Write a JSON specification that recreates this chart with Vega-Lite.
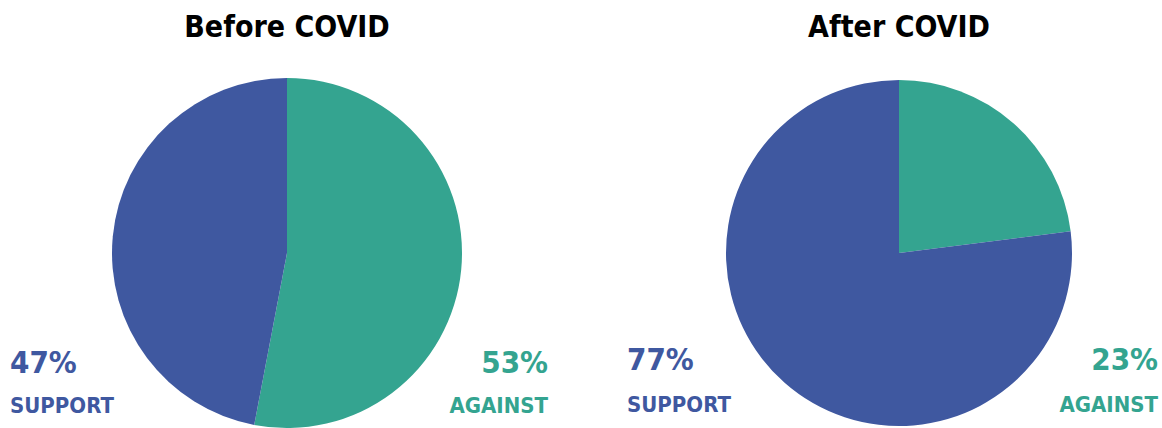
{
  "$schema": "https://vega.github.io/schema/vega-lite/v6.json",
  "padding": {"top": 13, "left": 0, "right": 0, "bottom": 0},
  "autosize": {"type": "pad"},
  "bounds": "flush",
  "background": "white",
  "config": {"view": {"stroke": null}, "font": "DejaVu Sans Condensed, Roboto, sans-serif"},
  "data": {"values": [
    {"period": "Before COVID", "stance": "AGAINST", "value": 0.53},
    {"period": "Before COVID", "stance": "SUPPORT", "value": 0.47},
    {"period": "After COVID", "stance": "AGAINST", "value": 0.23},
    {"period": "After COVID", "stance": "SUPPORT", "value": 0.77}
  ]},
  "spacing": 62,
  "hconcat": [
    {
      "width": 574, "height": 350,
      "title": {"text": "Before COVID", "fontSize": 30, "fontWeight": "bold", "font": "DejaVu Sans Condensed, Roboto, sans-serif", "color": "#000000", "offset": 35, "anchor": "middle"},
      "transform": [{"filter": "datum.period === 'Before COVID'"}],
      "layer": [
        {"mark": {"type": "arc", "outerRadius": 175},
         "encoding": {
           "theta": {"field": "value", "type": "quantitative", "stack": true},
           "color": {"field": "stance", "type": "nominal", "scale": {"domain": ["AGAINST", "SUPPORT"], "range": ["#34A490", "#3F58A0"]}, "legend": null},
           "order": {"field": "stance", "sort": "ascending"}
         }},
        {"transform": [{"filter": "datum.stance === 'SUPPORT'"}],
         "mark": {"type": "text", "align": "left", "baseline": "alphabetic", "dx": -277, "dy": 120, "fontSize": 31, "fontWeight": "bold", "color": "#3F58A0"},
         "encoding": {"text": {"field": "value", "type": "quantitative", "format": ".0%"}}},
        {"transform": [{"filter": "datum.stance === 'SUPPORT'"}],
         "mark": {"type": "text", "align": "left", "baseline": "alphabetic", "dx": -277, "dy": 160, "fontSize": 22, "fontWeight": "bold", "color": "#3F58A0"},
         "encoding": {"text": {"field": "stance", "type": "nominal"}}},
        {"transform": [{"filter": "datum.stance === 'AGAINST'"}],
         "mark": {"type": "text", "align": "right", "baseline": "alphabetic", "dx": 261, "dy": 120, "fontSize": 31, "fontWeight": "bold", "color": "#34A490"},
         "encoding": {"text": {"field": "value", "type": "quantitative", "format": ".0%"}}},
        {"transform": [{"filter": "datum.stance === 'AGAINST'"}],
         "mark": {"type": "text", "align": "right", "baseline": "alphabetic", "dx": 261, "dy": 160, "fontSize": 22, "fontWeight": "bold", "color": "#34A490"},
         "encoding": {"text": {"field": "stance", "type": "nominal"}}}
      ]
    },
    {
      "width": 526, "height": 350,
      "title": {"text": "After COVID", "fontSize": 30, "fontWeight": "bold", "font": "DejaVu Sans Condensed, Roboto, sans-serif", "color": "#000000", "offset": 35, "anchor": "middle"},
      "transform": [{"filter": "datum.period === 'After COVID'"}],
      "layer": [
        {"mark": {"type": "arc", "outerRadius": 173},
         "encoding": {
           "theta": {"field": "value", "type": "quantitative", "stack": true},
           "color": {"field": "stance", "type": "nominal", "scale": {"domain": ["AGAINST", "SUPPORT"], "range": ["#34A490", "#3F58A0"]}, "legend": null},
           "order": {"field": "stance", "sort": "ascending"}
         }},
        {"transform": [{"filter": "datum.stance === 'SUPPORT'"}],
         "mark": {"type": "text", "align": "left", "baseline": "alphabetic", "dx": -272, "dy": 117, "fontSize": 31, "fontWeight": "bold", "color": "#3F58A0"},
         "encoding": {"text": {"field": "value", "type": "quantitative", "format": ".0%"}}},
        {"transform": [{"filter": "datum.stance === 'SUPPORT'"}],
         "mark": {"type": "text", "align": "left", "baseline": "alphabetic", "dx": -272, "dy": 159, "fontSize": 22, "fontWeight": "bold", "color": "#3F58A0"},
         "encoding": {"text": {"field": "stance", "type": "nominal"}}},
        {"transform": [{"filter": "datum.stance === 'AGAINST'"}],
         "mark": {"type": "text", "align": "right", "baseline": "alphabetic", "dx": 259, "dy": 117, "fontSize": 31, "fontWeight": "bold", "color": "#34A490"},
         "encoding": {"text": {"field": "value", "type": "quantitative", "format": ".0%"}}},
        {"transform": [{"filter": "datum.stance === 'AGAINST'"}],
         "mark": {"type": "text", "align": "right", "baseline": "alphabetic", "dx": 259, "dy": 159, "fontSize": 22, "fontWeight": "bold", "color": "#34A490"},
         "encoding": {"text": {"field": "stance", "type": "nominal"}}}
      ]
    }
  ]
}
